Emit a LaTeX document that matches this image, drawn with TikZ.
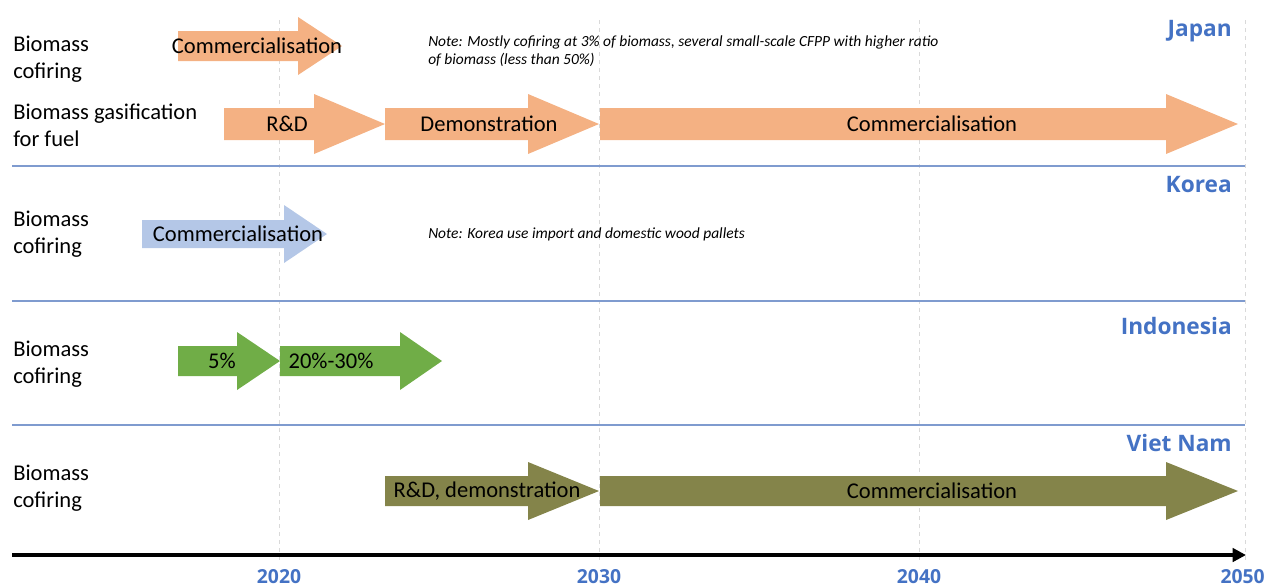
\documentclass[tikz,border=0pt]{standalone}
\usepackage{fontspec}
\setmainfont{Carlito}
\newfontfamily\ctryfont{Open Sans}
\usetikzlibrary{arrows.meta}
\definecolor{orangeA}{HTML}{F4B183}
\definecolor{blueA}{HTML}{B4C7E7}
\definecolor{greenA}{HTML}{70AD47}
\definecolor{oliveA}{HTML}{84844A}
\definecolor{ctry}{HTML}{4472C4}
\definecolor{sepl}{HTML}{7F9BCF}
\definecolor{gridl}{HTML}{D9D9D9}
\tikzset{
  rowlabel/.style={anchor=west, align=left, font=\fontsize{16.9}{20.3}\selectfont, inner sep=0pt},
  arrtext/.style={font=\fontsize{16.9}{20}\selectfont, inner sep=0pt, text=black},
  notetext/.style={anchor=west, align=left, font=\fontsize{11.6}{13.5}\selectfont\itshape, inner sep=0pt},
  ctrylabel/.style={anchor=east, font=\ctryfont\bfseries\fontsize{17}{20}\selectfont, text=ctry, inner sep=0pt},
  yearlabel/.style={anchor=base, font=\ctryfont\bfseries\fontsize{14.5}{17}\selectfont, text=ctry, inner sep=0pt},
  sepline/.style={draw=sepl, line width=0.8pt},
  gridline/.style={draw=gridl, dashed, line width=0.5pt},
}
% #1 start x, #2 head base x, #3 tip x, #4 center y, #5 body half, #6 head half, #7 colour
\newcommand\blockarr[7]{%
  \fill[#7] (#1,#4-#5) -- (#2,#4-#5) -- (#2,#4-#6) -- (#3,#4) -- (#2,#4+#6) -- (#2,#4+#5) -- (#1,#4+#5) -- cycle;}
\begin{document}
\begin{tikzpicture}[x=0.75pt,y=-0.75pt]
\useasboundingbox (0,0) rectangle (1266,587);
% grid lines
\foreach \gx in {279,599,919,1245} \draw[gridline] (\gx,20) -- (\gx,562);
% separators
\draw[sepline] (12,166) -- (1245,166);
\draw[sepline] (12,301) -- (1245,301);
\draw[sepline] (12,425) -- (1245,425);
% axis
\coordinate (axs) at (12,555);
\coordinate (axe) at (1246,555);
\draw[line width=2.8pt, -{Triangle[length=10pt,width=10pt]}] (axs) -- (axe);
% years
\node[yearlabel] (y2020) at (279,583.5) {2020};
\node[yearlabel] (y2030) at (599,583.5) {2030};
\node[yearlabel] (y2040) at (919,583.5) {2040};
\node[yearlabel, anchor=base east] (y2050) at (1265,583.5) {2050};
% countries
\node[ctrylabel] (jp) at (1232,31) {Japan};
\node[ctrylabel] (kr) at (1232,185) {Korea};
\node[ctrylabel] (id) at (1232,326) {Indonesia};
\node[ctrylabel] (vn) at (1232,443) {Viet Nam};
% row labels
\node[rowlabel] (l1) at (13,59) {Biomass\\cofiring};
\node[rowlabel] (l2) at (13,125) {Biomass gasification\\for fuel};
\node[rowlabel] (l3) at (13,234) {Biomass\\cofiring};
\node[rowlabel] (l4) at (13,364) {Biomass\\cofiring};
\node[rowlabel] (l5) at (13,488) {Biomass\\cofiring};
% Japan arrows
\blockarr{178}{298}{342}{46}{15}{29}{orangeA}
\node[arrtext] (a1) at (257,46) {Commercialisation};
\blockarr{224}{314}{385}{124}{16}{30}{orangeA}
\node[arrtext] (a2) at (287,124) {R\&D};
\blockarr{385}{528}{599}{124}{16}{30}{orangeA}
\node[arrtext] (a3) at (489,124) {Demonstration};
\blockarr{600}{1166}{1238}{124}{16}{30}{orangeA}
\node[arrtext] (a4) at (932,124) {Commercialisation};
\node[notetext] (n1) at (428,51) {Note: Mostly cofiring at 3\% of biomass, several small-scale CFPP with higher ratio\\of biomass (less than 50\%)};
% Korea
\blockarr{142}{284}{327}{234}{14}{29}{blueA}
\node[arrtext] (a5) at (238,234) {Commercialisation};
\node[notetext] (n2) at (428,234) {Note: Korea use import and domestic wood pallets};
% Indonesia
\blockarr{178}{237}{280}{361}{15}{29}{greenA}
\node[arrtext] (a6) at (222,361) {5\%};
\blockarr{280}{400}{442}{361}{15}{29}{greenA}
\node[arrtext] (a7) at (331,361) {20\%-30\%};
% Viet Nam
\blockarr{385}{528}{599}{491}{15}{29}{oliveA}
\node[arrtext] (a8) at (487,491) {R\&D, demonstration};
\blockarr{600}{1166}{1238}{491}{15}{29}{oliveA}
\node[arrtext] (a9) at (932,491) {Commercialisation};
\end{tikzpicture}
\end{document}
